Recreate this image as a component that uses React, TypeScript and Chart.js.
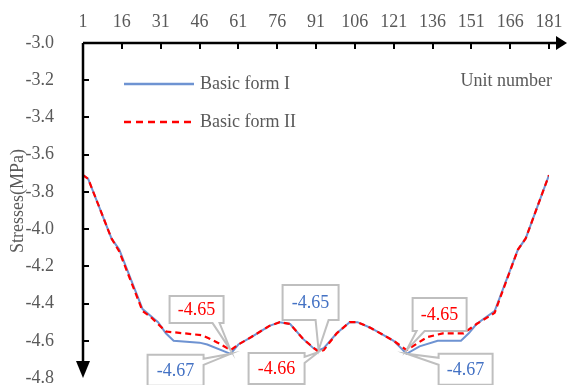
import React, { useEffect, useRef } from "react";
import { Chart, registerables } from "chart.js";

Chart.register(...registerables);

// ---- data ----
const xTicks = [1, 16, 31, 46, 61, 76, 91, 106, 121, 136, 151, 166, 181];
const yTicks = [-3.0, -3.2, -3.4, -3.6, -3.8, -4.0, -4.2, -4.4, -4.6, -4.8];
const seriesNames = ["Basic form I", "Basic form II"];
const xAxisTitle = "Unit number";
const yAxisTitle = "Stresses(MPa)";

const blueUnits = [1, 3, 12, 15, 24, 30, 33, 36, 46, 49, 58, 61, 66, 73, 77, 81, 86, 90, 92, 94, 99, 104, 107, 112, 121, 126, 131, 138, 147, 150, 153, 160, 169, 172, 181];
const blueValues = [-3.71, -3.73, -4.05, -4.11, -4.43, -4.5, -4.56, -4.6, -4.61, -4.62, -4.67, -4.62, -4.58, -4.52, -4.5, -4.51, -4.59, -4.64, -4.65, -4.64, -4.56, -4.5, -4.5, -4.53, -4.6, -4.67, -4.63, -4.6, -4.6, -4.56, -4.51, -4.44, -4.11, -4.05, -3.71];

const redUnits = [1, 3, 12, 15, 24, 27, 30, 33, 40, 47, 53, 58, 61, 66, 73, 77, 81, 86, 92, 94, 99, 104, 107, 112, 121, 126, 134, 140, 148, 151, 153, 160, 169, 172, 181];
const redValues = [-3.71, -3.73, -4.05, -4.12, -4.44, -4.47, -4.51, -4.55, -4.56, -4.57, -4.61, -4.65, -4.62, -4.58, -4.52, -4.5, -4.51, -4.59, -4.66, -4.65, -4.56, -4.5, -4.5, -4.53, -4.6, -4.65, -4.58, -4.56, -4.56, -4.53, -4.51, -4.45, -4.11, -4.05, -3.71];

// callouts: which series (0 = blue, 1 = red) and which unit
const calloutSeries = [1, 0, 1, 0, 1, 0];
const calloutUnits = [58, 58, 92, 92, 126, 126];

// ---- styles ----
const BLUE = "#6E93D2";
const BLUE_TEXT = "#4472C4";
const RED = "#FF0000";
const GRAY_TEXT = "#595959";
const BOX_GRAY = "#BFBFBF";
const FONT = "'Liberation Serif', 'Times New Roman', serif";

// box offsets relative to the point: [L, T, R, B], pointer side, base offsets
const calloutLayout = [
  { box: [-61, -54, -7, -27], ptr: "bottom", base: [43, 50] },
  { box: [-83, 1, -27, 32], ptr: "right", base: [4, 10] },
  { box: [-70, 1, -14, 32], ptr: "right", base: [4, 10] },
  { box: [-36, -65, 20, -30], ptr: "bottom", base: [33, 46] },
  { box: [6, -52, 60, -19], ptr: "bottom", base: [4, 12] },
  { box: [32, 0, 86, 31], ptr: "left", base: [4, 11] },
];

const unitsBySeries = [blueUnits, redUnits];
const valuesBySeries = [blueValues, redValues];

const decorPlugin = {
  id: "decor",
  afterDatasetsDraw(chart: any) {
    const ctx: CanvasRenderingContext2D = chart.ctx;
    const xs = chart.scales.x;
    const ys = chart.scales.y;
    const { left, top } = chart.chartArea;
    ctx.save();

    // axes
    ctx.strokeStyle = "#000";
    ctx.fillStyle = "#000";
    ctx.lineWidth = 2.5;
    ctx.beginPath();
    ctx.moveTo(left, top);
    ctx.lineTo(558, top);
    ctx.stroke();
    ctx.beginPath();
    ctx.moveTo(567, top);
    ctx.lineTo(556, top - 7);
    ctx.lineTo(556, top + 7);
    ctx.closePath();
    ctx.fill();

    ctx.beginPath();
    ctx.moveTo(left, top);
    ctx.lineTo(left, 362);
    ctx.stroke();
    const yTip = ys.getPixelForValue(-4.8);
    ctx.beginPath();
    ctx.moveTo(left, yTip);
    ctx.lineTo(left - 7, yTip - 17);
    ctx.lineTo(left + 7, yTip - 17);
    ctx.closePath();
    ctx.fill();

    ctx.lineWidth = 2;
    xTicks.forEach((t) => {
      const px = Math.round(xs.getPixelForValue(t));
      ctx.beginPath();
      ctx.moveTo(px, top);
      ctx.lineTo(px, top + 6);
      ctx.stroke();
    });
    yTicks.slice(1, yTicks.length - 1).forEach((t) => {
      const py = Math.round(ys.getPixelForValue(t));
      ctx.beginPath();
      ctx.moveTo(left, py);
      ctx.lineTo(left + 6, py);
      ctx.stroke();
    });

    // legend
    ctx.lineWidth = 2.5;
    ctx.strokeStyle = BLUE;
    ctx.beginPath();
    ctx.moveTo(124, 84);
    ctx.lineTo(194, 84);
    ctx.stroke();
    ctx.strokeStyle = RED;
    ctx.setLineDash([7, 5]);
    ctx.beginPath();
    ctx.moveTo(124, 122);
    ctx.lineTo(192, 122);
    ctx.stroke();
    ctx.setLineDash([]);
    ctx.font = `18px ${FONT}`;
    ctx.fillStyle = GRAY_TEXT;
    ctx.textBaseline = "middle";
    ctx.textAlign = "left";
    ctx.fillText(seriesNames[0], 200, 84);
    ctx.fillText(seriesNames[1], 200, 122);

    // axis titles
    ctx.textAlign = "right";
    ctx.fillText(xAxisTitle, 552, 81);
    ctx.save();
    ctx.translate(18, 201);
    ctx.rotate(-Math.PI / 2);
    ctx.textAlign = "center";
    ctx.fillText(yAxisTitle, 0, 0);
    ctx.restore();

    // callouts
    calloutUnits.forEach((u, i) => {
      const s = calloutSeries[i];
      const idx = unitsBySeries[s].indexOf(u);
      if (idx < 0) return;
      const v = valuesBySeries[s][idx];
      const tx = xs.getPixelForValue(u);
      const ty = ys.getPixelForValue(v);
      const lay = calloutLayout[i];
      const L = tx + lay.box[0];
      const T = ty + lay.box[1];
      const R = tx + lay.box[2];
      const B = ty + lay.box[3];
      let pts: number[][] = [];
      if (lay.ptr === "bottom") {
        pts = [[L, T], [R, T], [R, B], [L + lay.base[1], B], [tx, ty], [L + lay.base[0], B], [L, B]];
      } else if (lay.ptr === "right") {
        pts = [[L, T], [R, T], [R, T + lay.base[0]], [tx, ty], [R, T + lay.base[1]], [R, B], [L, B]];
      } else {
        pts = [[L, T], [R, T], [R, B], [L, B], [L, T + lay.base[1]], [tx, ty], [L, T + lay.base[0]]];
      }
      ctx.beginPath();
      pts.forEach((p, k) => (k === 0 ? ctx.moveTo(p[0], p[1]) : ctx.lineTo(p[0], p[1])));
      ctx.closePath();
      ctx.fillStyle = "#fff";
      ctx.fill();
      ctx.strokeStyle = BOX_GRAY;
      ctx.lineWidth = 2;
      ctx.lineJoin = "miter";
      ctx.stroke();
      ctx.fillStyle = s === 0 ? BLUE_TEXT : RED;
      ctx.font = `18px ${FONT}`;
      ctx.textAlign = "center";
      ctx.textBaseline = "middle";
      ctx.fillText(v.toFixed(2), (L + R) / 2, (T + B) / 2 + 1);
    });

    ctx.restore();
  },
};

export default function App() {
  const ref = useRef<HTMLCanvasElement>(null);
  useEffect(() => {
    const chart = new Chart(ref.current as HTMLCanvasElement, {
      type: "line",
      data: {
        datasets: [
          {
            label: seriesNames[1],
            data: redUnits.map((u, i) => ({ x: u, y: redValues[i] })),
            borderColor: RED,
            borderWidth: 2.2,
            borderDash: [6, 4],
            pointRadius: 0,
            tension: 0,
            fill: false,
            order: 0,
          },
          {
            label: seriesNames[0],
            data: blueUnits.map((u, i) => ({ x: u, y: blueValues[i] })),
            borderColor: BLUE,
            borderWidth: 2,
            pointRadius: 0,
            tension: 0,
            fill: false,
            order: 1,
          },
        ],
      },
      options: {
        responsive: false,
        maintainAspectRatio: false,
        animation: false,
        devicePixelRatio: 1,
        layout: { padding: { left: 0, top: 0, right: 18, bottom: 7 } },
        plugins: { legend: { display: false }, tooltip: { enabled: false } },
        scales: {
          x: {
            type: "linear",
            position: "top",
            min: 1,
            max: 181,
            grid: { display: false },
            border: { display: false },
            ticks: { font: { family: FONT, size: 18 }, color: GRAY_TEXT, padding: 2, maxRotation: 0, autoSkip: false },
            afterBuildTicks: (s: any) => {
              s.ticks = xTicks.map((v) => ({ value: v }));
            },
            afterFit: (s: any) => {
              s.height = 43;
              s.paddingLeft = 0;
              s.paddingRight = 0;
            },
          },
          y: {
            type: "linear",
            min: -4.8,
            max: -3.0,
            grid: { display: false },
            border: { display: false },
            ticks: {
              font: { family: FONT, size: 18 },
              color: GRAY_TEXT,
              padding: 21,
              autoSkip: false,
              callback: (v: any) => Number(v).toFixed(1),
            },
            afterBuildTicks: (s: any) => {
              s.ticks = yTicks.map((v) => ({ value: v }));
            },
            afterFit: (s: any) => {
              s.width = 83;
              s.paddingTop = 0;
              s.paddingBottom = 0;
            },
          },
        },
      },
      plugins: [decorPlugin],
    });
    return () => chart.destroy();
  }, []);
  return (
    <div style={{ position: "fixed", left: 0, top: 0, width: 567, height: 385, background: "#fff" }}>
      <canvas ref={ref} width={567} height={385} style={{ display: "block", width: 567, height: 385 }} />
    </div>
  );
}
